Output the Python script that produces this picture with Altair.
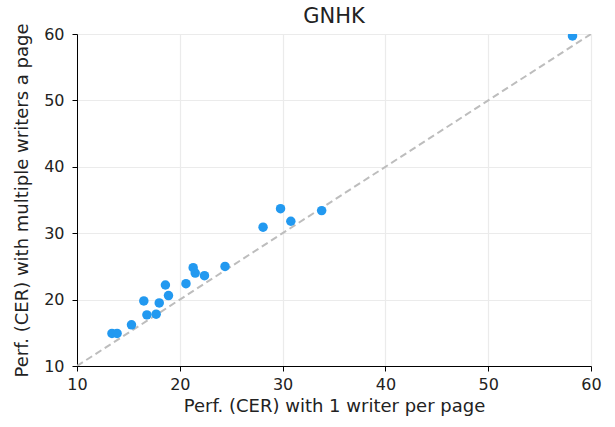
import altair as alt
import pandas as pd

single_writer = [58.2, 29.8, 33.8, 30.8, 28.1, 24.4, 21.3, 21.5, 22.4, 20.6, 18.6, 18.9,
                 16.5, 18.0, 16.8, 17.7, 15.3, 13.4, 13.9]
multi_writer = [59.7, 33.7, 33.4, 31.8, 30.9, 25.0, 24.8, 24.0, 23.6, 22.4, 22.2, 20.6,
                19.8, 19.5, 17.7, 17.8, 16.2, 14.9, 14.9]
diag = [10, 60]

pts = pd.DataFrame({"x": single_writer, "y": multi_writer})
ln = pd.DataFrame({"x": diag, "y": diag})

font = "DejaVu Sans"
xs = alt.Scale(domain=[10, 60], nice=False, zero=False)
ys = alt.Scale(domain=[10, 60], nice=False, zero=False)

common = dict(values=[10, 20, 30, 40, 50, 60], grid=True, gridColor="#ebebeb", gridWidth=1.2,
              domainColor="#000000", tickColor="#000000", tickSize=5, labelColor="#222222",
              labelFontSize=16, labelFont=font, titleFont=font, titleFontSize=18,
              titleFontWeight="normal", titleColor="#222222", labelFlush=False)

xaxis = alt.Axis(title="Perf. (CER) with 1 writer per page", titlePadding=5, labelPadding=5, **common)
yaxis = alt.Axis(title="Perf. (CER) with multiple writers a page", titlePadding=12, labelPadding=8, **common)

line = alt.Chart(ln).mark_line(color="#bdbdbd", strokeDash=[7, 4], strokeWidth=2, clip=True).encode(
    x=alt.X("x:Q", scale=xs, axis=xaxis),
    y=alt.Y("y:Q", scale=ys, axis=yaxis),
)
points = alt.Chart(pts).mark_circle(color="#2299f0", size=90, opacity=1, clip=True).encode(
    x=alt.X("x:Q", scale=xs),
    y=alt.Y("y:Q", scale=ys),
)

chart = (line + points).properties(
    width=514, height=332,
    title=alt.TitleParams("GNHK", font=font, fontSize=21, fontWeight="normal", color="#222222", offset=-4),
    autosize=alt.AutoSizeParams(type="none"),
    padding={"left": 77, "top": 34, "right": 24, "bottom": 61},
).configure_view(stroke="#000000", strokeWidth=1).configure(background="white")

chart.save("out.html", embed_options={"renderer": "svg", "actions": False})
